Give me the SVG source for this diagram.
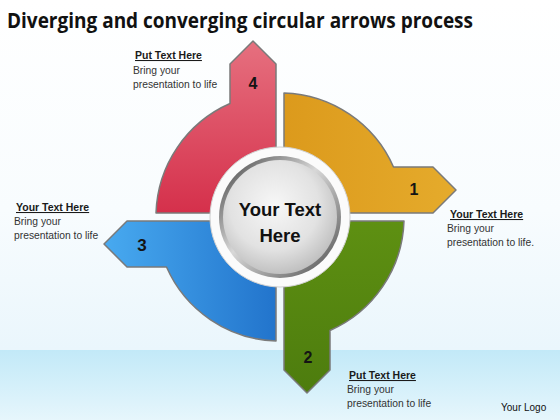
<svg xmlns="http://www.w3.org/2000/svg" width="560" height="420" viewBox="0 0 560 420">
  <style>
    .title { font-family: "Open Sans", "Liberation Sans", Arial, sans-serif; font-weight: bold; font-size: 22px; fill: #111; }
    .head { font-family: "Liberation Sans", Arial, sans-serif; font-weight: bold; font-size: 10.5px; fill: #1a1a1a; text-decoration: underline; }
    .body { font-family: "Liberation Sans", Arial, sans-serif; font-size: 10.3px; fill: #333; }
    .num { font-family: "Liberation Sans", Arial, sans-serif; font-weight: bold; font-size: 16px; fill: #141414; text-anchor: middle; }
    .center { font-family: "Liberation Sans", Arial, sans-serif; font-weight: bold; font-size: 18.5px; fill: #111; text-anchor: middle; }
    .logo { font-family: "Liberation Sans", Arial, sans-serif; font-size: 10px; fill: #111; }
    .seg { stroke: #7a7a7a; stroke-width: 1.5; stroke-linejoin: round; }
  </style>
  <defs>
    <linearGradient id="bgTop" x1="0" y1="0" x2="0" y2="1">
      <stop offset="0" stop-color="#ffffff"/>
      <stop offset="0.6" stop-color="#f8fcfe"/>
      <stop offset="1" stop-color="#eaf6fc"/>
    </linearGradient>
    <linearGradient id="bgBand" x1="0" y1="0" x2="0" y2="1">
      <stop offset="0" stop-color="#c2e9f8"/>
      <stop offset="1" stop-color="#e6f6fc"/>
    </linearGradient>
    <linearGradient id="gRed" x1="0" y1="0" x2="0" y2="1">
      <stop offset="0" stop-color="#e6707f"/>
      <stop offset="1" stop-color="#d5304b"/>
    </linearGradient>
    <linearGradient id="gOrange" x1="0" y1="0" x2="1" y2="0">
      <stop offset="0" stop-color="#dc9a1c"/>
      <stop offset="1" stop-color="#e5ab2c"/>
    </linearGradient>
    <linearGradient id="gGreen" x1="0" y1="0" x2="0" y2="1">
      <stop offset="0" stop-color="#5e9012"/>
      <stop offset="1" stop-color="#4d7c0e"/>
    </linearGradient>
    <linearGradient id="gBlue" x1="0" y1="0" x2="1" y2="0">
      <stop offset="0" stop-color="#48aaf0"/>
      <stop offset="1" stop-color="#2274cc"/>
    </linearGradient>
    <radialGradient id="gDisk" cx="0.45" cy="0.4" r="0.65">
      <stop offset="0" stop-color="#f7f7f7"/>
      <stop offset="0.6" stop-color="#e2e2e2"/>
      <stop offset="1" stop-color="#b9b9b9"/>
    </radialGradient>
    <linearGradient id="gRing" x1="0" y1="0" x2="1" y2="1">
      <stop offset="0" stop-color="#3d3d3d"/>
      <stop offset="0.45" stop-color="#d8d8d8"/>
      <stop offset="1" stop-color="#4a4a4a"/>
    </linearGradient>
  </defs>

  <rect x="0" y="0" width="560" height="350" fill="url(#bgTop)"/>
  <rect x="0" y="350" width="560" height="70" fill="url(#bgBand)"/>

  <text class="title" x="7" y="28" textLength="466" lengthAdjust="spacingAndGlyphs">Diverging and converging circular arrows process</text>

  <g id="node-4">
    <path class="seg" fill="url(#gRed)" d="M 276,213 L 156,213 A 124 124 0 0 1 230,103.5 L 230,64 L 253,41 L 276,64 Z"/>
    <text class="num" x="253" y="89">4</text>
  </g>
  <g id="node-1">
    <path class="seg" fill="url(#gOrange)" d="M 284,213 L 284,93 A 124 124 0 0 1 393.5,167 L 433,167 L 456,190 L 433,213 Z"/>
    <text class="num" x="414" y="195">1</text>
  </g>
  <g id="node-2">
    <path class="seg" fill="url(#gGreen)" d="M 284,221 L 404,221 A 124 124 0 0 1 330,330.5 L 330,370 L 307,393 L 284,370 Z"/>
    <text class="num" x="308" y="363">2</text>
  </g>
  <g id="node-3">
    <path class="seg" fill="url(#gBlue)" d="M 276,221 L 276,341 A 124 124 0 0 1 166.5,267 L 127,267 L 104,244 L 127,221 Z"/>
    <text class="num" x="142" y="251" style="font-size:17px">3</text>
  </g>

  <g id="node-center">
    <circle cx="280" cy="217" r="70" fill="#fbfbfb" stroke="#d0d0d0" stroke-width="1"/>
    <circle cx="280" cy="217" r="61" fill="url(#gRing)"/>
    <circle cx="280" cy="217" r="57" fill="url(#gDisk)"/>
    <text class="center" x="280" y="216">Your Text</text>
    <text class="center" x="280" y="242">Here</text>
  </g>

  <g id="label-4">
    <text class="head" x="135" y="59">Put Text Here</text>
    <text class="body" x="133" y="74">Bring your</text>
    <text class="body" x="133" y="88">presentation to life</text>
  </g>
  <g id="label-3">
    <text class="head" x="16" y="211">Your Text Here</text>
    <text class="body" x="14" y="225">Bring your</text>
    <text class="body" x="14" y="239">presentation to life</text>
  </g>
  <g id="label-1">
    <text class="head" x="450" y="218">Your Text Here</text>
    <text class="body" x="447" y="232">Bring your</text>
    <text class="body" x="447" y="246">presentation to life.</text>
  </g>
  <g id="label-2">
    <text class="head" x="349" y="379">Put Text Here</text>
    <text class="body" x="347" y="393">Bring your</text>
    <text class="body" x="347" y="407">presentation to life</text>
  </g>
  <text class="logo" x="501" y="411">Your Logo</text>
</svg>
